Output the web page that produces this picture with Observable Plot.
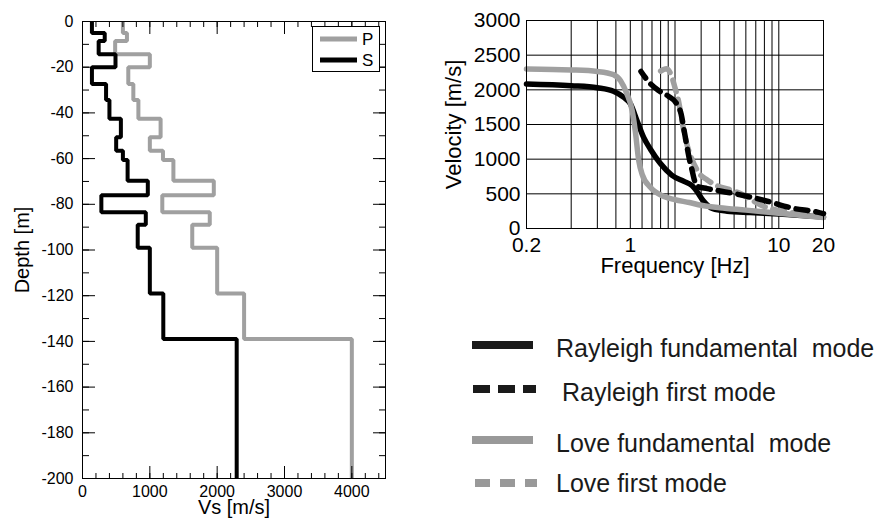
<!DOCTYPE html>
<html>
<head>
<meta charset="utf-8">
<script src="https://cdn.jsdelivr.net/npm/d3@7"></script>
<script src="https://cdn.jsdelivr.net/npm/@observablehq/plot@0.6"></script>
<style>
  html, body { margin: 0; padding: 0; background: #fff; }
  body { font-family: "Liberation Sans", Arial, Helvetica, sans-serif; }
  #wrap { position: relative; width: 877px; height: 520px; overflow: hidden; background: #fff; }
  #left { position: absolute; left: 0; top: 0; }
  #right { position: absolute; left: 420px; top: 0; }
  .abs { position: absolute; }
</style>
</head>
<body>
<div id="wrap">
  <div id="left"></div>
  <div id="right"></div>
  <svg id="profLegend" class="abs" style="left:312px;top:26px" width="68" height="46"></svg>
  <div id="modeLegend"></div>
</div>
<script>
// ---------- Data: velocity profile (left panel) ----------
const layerTopDepth = [0, 5, 8.5, 14.3, 20, 27.4, 34.4, 42.6, 50.7, 56.6, 60.6, 69.7, 76, 83.5, 89, 99, 119, 139];
const profileBottom = 200;
const vsS = [140, 330, 240, 490, 140, 350, 400, 570, 500, 600, 670, 970, 280, 940, 820, 1000, 1200, 2290];
const vpP = [600, 660, 485, 1000, 680, 755, 830, 1160, 1000, 1195, 1350, 1950, 1185, 1890, 1630, 2000, 2400, 4000];
const profXMajor = [0, 1000, 2000, 3000, 4000];
const profXMinor = d3.range(0, 4501, 200);
const profYMajor = d3.range(-200, 1, 20);
const profYMinor = d3.range(-200, 1, 10);
const profLegendNames = ["P", "S"];

// ---------- Data: dispersion curves (right panel) ----------
const rayFundF = [0.2, 0.4, 0.6, 0.77, 0.9, 1.0, 1.11, 1.23, 1.37, 1.59, 1.9, 2.3, 2.6, 2.8, 3.1, 3.6, 4.5, 6.4, 10, 20];
const rayFundV = [2085, 2060, 2030, 1980, 1895, 1800, 1555, 1314, 1140, 940, 770, 680, 620, 540, 400, 285, 250, 230, 210, 165];
const rayFirstF = [1.18, 1.35, 1.55, 1.8, 2.05, 2.2, 2.3, 2.4, 2.5, 2.6, 2.7, 2.8, 3.3, 3.95, 5.9, 8.5, 12.3, 18.2, 20];
const rayFirstV = [2265, 2100, 1990, 1910, 1800, 1650, 1420, 1200, 1000, 850, 700, 610, 575, 544, 472, 390, 294, 237, 215];
const loveFundF = [0.2, 0.4, 0.6, 0.77, 0.86, 0.95, 1.03, 1.08, 1.14, 1.2, 1.37, 1.67, 2.0, 2.5, 3.0, 4.0, 6.0, 10, 20];
const loveFundV = [2300, 2287, 2265, 2220, 2130, 1940, 1700, 1410, 980, 785, 590, 465, 415, 375, 335, 300, 265, 220, 160];
const loveFirstF = [1.6, 1.75, 1.88, 2.0, 2.12, 2.25, 2.4, 2.6, 2.9, 3.3, 3.8, 4.7, 5.8, 6.7, 7.9, 10, 14, 20];
const loveFirstV = [2270, 2305, 2220, 2030, 1820, 1500, 1220, 1000, 800, 700, 620, 560, 480, 400, 320, 260, 210, 170];
const freqTicks = [0.2, 1, 10, 20];
const freqGrid = [0.4, 0.6, 0.8, 1, 1.2, 1.4, 1.6, 1.8, 2, 3, 4, 5, 6, 7, 8, 9, 10];
const velTicks = [0, 500, 1000, 1500, 2000, 2500, 3000];
const modeNames = ["Rayleigh fundamental  mode", "Rayleigh first mode", "Love fundamental  mode", "Love first mode"];

// ---------- Styles ----------
const BLACK = "#000";
const GRAY = "#a0a0a0";
const FONT = "'Liberation Sans', Arial, Helvetica, sans-serif";

function profile(vals) {
  const pts = [];
  vals.forEach((v, i) => {
    const top = layerTopDepth[i];
    const bot = i + 1 < layerTopDepth.length ? layerTopDepth[i + 1] : profileBottom;
    pts.push({v, depth: -top}, {v, depth: -bot});
  });
  return pts;
}
const series = (F, V) => F.map((f, i) => ({f, v: V[i]}));

// ---------- Left panel ----------
const left = Plot.plot({
  width: 420, height: 520,
  marginLeft: 82, marginRight: 35, marginTop: 21, marginBottom: 42,
  style: {fontFamily: FONT, fontSize: "16px", color: "#000", background: "transparent", overflow: "visible"},
  x: {domain: [0, 4500]},
  y: {domain: [-200, 0]},
  marks: [
    Plot.line(profile(vpP), {x: "v", y: "depth", stroke: GRAY, strokeWidth: 4, strokeLinejoin: "miter", strokeLinecap: "butt"}),
    Plot.line(profile(vsS), {x: "v", y: "depth", stroke: BLACK, strokeWidth: 4, strokeLinejoin: "miter", strokeLinecap: "butt"}),
    Plot.frame({stroke: "#000", strokeWidth: 1}),
    Plot.axisX(profXMajor, {anchor: "bottom", tickSize: -12, tickPadding: 19, tickFormat: d => String(d), label: null, fontSize: 16}),
    Plot.axisX(profXMinor, {anchor: "bottom", tickSize: -5, fill: "none", label: null}),
    Plot.axisX(profXMajor, {anchor: "top", tickSize: -12, fill: "none", label: null}),
    Plot.axisX(profXMinor, {anchor: "top", tickSize: -5, fill: "none", label: null}),
    Plot.axisY(profYMajor, {anchor: "left", tickSize: -13, tickPadding: 22, tickFormat: d => String(d), label: null, fontSize: 16}),
    Plot.axisY(profYMinor, {anchor: "left", tickSize: -7, fill: "none", label: null}),
    Plot.axisY(profYMajor, {anchor: "right", tickSize: -13, fill: "none", label: null}),
    Plot.axisY(profYMinor, {anchor: "right", tickSize: -7, fill: "none", label: null}),
    Plot.text(["Depth [m]"], {frameAnchor: "left", textAnchor: "middle", rotate: -90, dx: -60, fontSize: 20}),
    Plot.text(["Vs [m/s]"], {frameAnchor: "bottom", textAnchor: "middle", dy: 35, fontSize: 20})
  ]
});
document.getElementById("left").appendChild(left);

// left legend box
const pl = d3.select("#profLegend");
pl.append("rect").attr("x", 0.5).attr("y", 0.5).attr("width", 67).attr("height", 45)
  .attr("fill", "#fff").attr("stroke", "#000").attr("stroke-width", 1);
const plStyles = [{stroke: GRAY, y: 13}, {stroke: BLACK, y: 34}];
profLegendNames.forEach((name, i) => {
  pl.append("line").attr("x1", 8).attr("x2", 45).attr("y1", plStyles[i].y).attr("y2", plStyles[i].y)
    .attr("stroke", plStyles[i].stroke).attr("stroke-width", 5);
  pl.append("text").attr("x", 50).attr("y", plStyles[i].y).attr("dy", "0.36em")
    .attr("font-family", FONT).attr("font-size", 17).attr("fill", "#000").text(name);
});

// ---------- Right panel ----------
const right = Plot.plot({
  width: 440, height: 290,
  marginLeft: 106, marginRight: 37, marginTop: 20, marginBottom: 62,
  style: {fontFamily: FONT, fontSize: "21px", color: "#000", background: "transparent", overflow: "visible"},
  x: {type: "log", domain: [0.2, 20], axis: null},
  y: {domain: [0, 3000], axis: null},
  marks: [
    Plot.ruleX(freqGrid, {stroke: "#000", strokeWidth: 1}),
    Plot.ruleY(velTicks, {stroke: "#000", strokeWidth: 1}),
    Plot.line(series(rayFundF, rayFundV), {x: "f", y: "v", stroke: BLACK, strokeWidth: 5.5, curve: "monotone-x"}),
    Plot.line(series(loveFundF, loveFundV), {x: "f", y: "v", stroke: GRAY, strokeWidth: 5.5, curve: "monotone-x"}),
    Plot.line(series(loveFirstF, loveFirstV), {x: "f", y: "v", stroke: GRAY, strokeWidth: 5.5, strokeDasharray: "12,8", curve: "monotone-x"}),
    Plot.line(series(rayFirstF, rayFirstV), {x: "f", y: "v", stroke: BLACK, strokeWidth: 5.5, strokeDasharray: "12,8", strokeDashoffset: 4, curve: "monotone-x"}),
    Plot.frame({stroke: "#000", strokeWidth: 1}),
    Plot.text(freqTicks, {x: d => d, frameAnchor: "bottom", textAnchor: "middle", lineAnchor: "top", dy: 9, text: d => String(d), fontSize: 21}),
    Plot.text(velTicks, {y: d => d, frameAnchor: "left", textAnchor: "end", dx: -6, text: d => String(d), fontSize: 21}),
    Plot.text(["Frequency [Hz]"], {frameAnchor: "bottom", textAnchor: "middle", dy: 44, fontSize: 22}),
    Plot.text(["Velocity [m/s]"], {frameAnchor: "left", textAnchor: "middle", rotate: -90, dx: -73, fontSize: 22})
  ]
});
document.getElementById("right").appendChild(right);

// ---------- Mode legend (below right panel) ----------
const modeStyles = [
  {stroke: "#1a1a1a", dash: null, lineY: 345, x1: 472, x2: 533, textX: 556, textY: 348},
  {stroke: "#1a1a1a", dash: "17,8", lineY: 389, x1: 473, x2: 536, textX: 562, textY: 392},
  {stroke: "#999", dash: null, lineY: 440, x1: 472, x2: 533, textX: 556, textY: 443},
  {stroke: "#999", dash: "15,10", lineY: 483, x1: 475, x2: 537, textX: 556, textY: 483}
];
const ml = d3.select("#modeLegend");
const mlSvg = ml.append("svg").attr("class", "abs").style("left", "0px").style("top", "0px")
  .attr("width", 877).attr("height", 520);
modeNames.forEach((name, i) => {
  const s = modeStyles[i];
  mlSvg.append("line").attr("x1", s.x1).attr("x2", s.x2).attr("y1", s.lineY).attr("y2", s.lineY)
    .attr("stroke", s.stroke).attr("stroke-width", 8).attr("stroke-dasharray", s.dash);
  mlSvg.append("text").attr("x", s.textX).attr("y", s.textY).attr("dy", "0.36em")
    .attr("font-family", FONT).attr("font-size", 25).attr("fill", "#1a1a1a")
    .style("white-space", "pre").attr("xml:space", "preserve").text(name);
});
</script>
</body>
</html>
